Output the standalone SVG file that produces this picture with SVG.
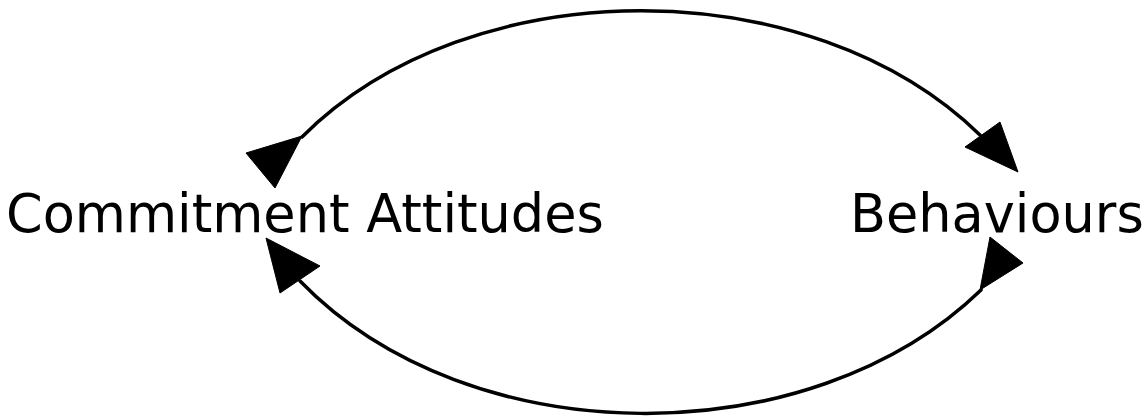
<svg xmlns="http://www.w3.org/2000/svg" width="1144" height="418" viewBox="0 0 1144 418">
<style>
.lbl{font-family:"DejaVu Sans",Verdana,sans-serif;font-size:52.5px;fill:#000}
.arc{fill:none;stroke:#000;stroke-width:3.5;stroke-linecap:round}
.head{fill:#000;stroke:#000;stroke-width:1;stroke-linejoin:round}
</style>
<rect width="1144" height="418" fill="#fff"/>
<g id="connectors">
<path class="arc" d="M302,137 C470,-31 810,-31 980,135"/>
<polygon class="head" points="965,147 1000,122 1018,172"/>
<path class="arc" d="M300,281 C470,456 810,456 981,290"/>
<polygon class="head" points="266,238 320,266 280,293"/>
<polygon class="head" points="246,153 302,136 275,188"/>
<polygon class="head" points="990,237 1023,263 980,290"/>
</g>
<g id="node-commitment">
<text class="lbl" x="6" y="232">Commitment Attitudes</text>
</g>
<g id="node-behaviours">
<text class="lbl" x="850" y="232">Behaviours</text>
</g>
</svg>
